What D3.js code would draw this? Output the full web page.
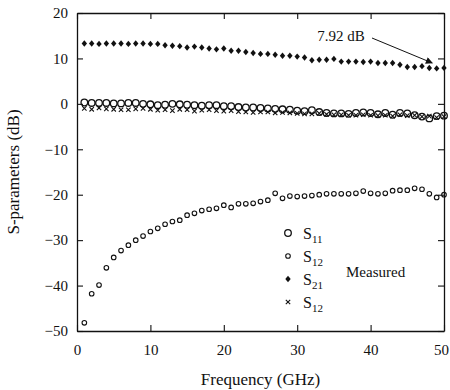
<!DOCTYPE html>
<html><head><meta charset="utf-8">
<script src="https://cdn.jsdelivr.net/npm/d3@7"></script>
<style>body{margin:0;background:#fff}svg{display:block}text{font-family:"Liberation Serif","Times New Roman",serif;fill:#111}</style>
</head><body><svg id="c" width="450" height="390"></svg>
<script>
const freq = d3.range(1, 51);
const s21 = [13.3,13.3,13.2,13.3,13.3,13.3,13.2,13.3,13.3,13.2,13.2,12.9,12.8,12.7,12.4,12.6,12.4,12.2,12.0,12.2,11.7,11.7,11.4,11.2,11.0,11.0,10.8,10.6,10.6,10.4,10.2,9.6,9.7,9.7,9.9,9.3,9.3,9.3,9.2,9.3,9.0,9.0,9.0,8.6,8.1,8.1,8.3,7.9,7.8,7.92];
const s11 = [0.3,0.2,0.2,0.2,0.1,0.1,0.2,0.2,0.0,-0.1,-0.3,-0.2,0.0,-0.1,-0.2,-0.3,-0.4,-0.3,-0.3,-0.5,-0.5,-0.7,-0.8,-0.8,-0.9,-1.0,-1.1,-1.2,-1.3,-1.5,-1.6,-1.4,-1.8,-2.0,-2.1,-2.1,-2.2,-2.0,-1.9,-2.0,-2.3,-2.0,-2.4,-2.0,-2.1,-2.5,-2.8,-3.2,-2.7,-2.6];
const s12x = [-1.0,-1.2,-0.9,-1.1,-1.2,-1.3,-1.3,-1.1,-1.0,-1.2,-1.4,-1.3,-1.5,-1.2,-1.3,-1.6,-1.4,-1.3,-1.5,-1.6,-1.5,-1.7,-1.8,-1.9,-1.8,-1.8,-2.0,-1.9,-2.0,-2.1,-2.2,-2.2,-2.1,-2.3,-2.4,-2.4,-2.5,-2.5,-2.4,-2.5,-2.6,-2.5,-2.7,-2.4,-2.6,-2.5,-2.8,-2.7,-3.0,-2.8];
const s12o = [-48.2,-41.8,-39.9,-36.1,-33.8,-32.3,-31.1,-30.0,-29.1,-28.1,-27.4,-26.5,-25.9,-25.6,-24.5,-24.1,-23.5,-23.2,-23.0,-22.3,-22.8,-22.0,-22.0,-21.9,-21.5,-21.2,-19.7,-20.8,-20.3,-20.4,-20.3,-20.2,-20.0,-19.8,-19.8,-19.8,-19.8,-19.7,-19.2,-19.7,-19.8,-19.7,-19.1,-19.0,-19.0,-18.6,-18.8,-19.8,-20.6,-20.0];
const xTicks = [0,10,20,30,40,50];
const yTicks = [20,10,0,-10,-20,-30,-40,-50];
const legendItems = [["11","o"],["12","s"],["21","d"],["12","x"]];
const annotation = "7.92 dB";
const legendNote = "Measured";

const svg = d3.select("#c");
const L=77,R=444,T=13,B=331;
const x = d3.scaleLinear().domain([0,50]).range([L,R]);
const y = d3.scaleLinear().domain([-50,20]).range([B,T]);
const tk=6;
const col="#111";

const ax = (g)=>g.selectAll(".domain").attr("stroke",col).attr("stroke-width",1.3);
const fnt = g=>g.selectAll("text").style("font-size","15px").attr("fill",col);
const tl = g=>g.selectAll("line").attr("stroke",col).attr("stroke-width",1.1);
svg.append("g").attr("transform",`translate(0,${B})`)
  .call(d3.axisBottom(x).tickValues(xTicks).tickSize(-tk).tickPadding(13).tickSizeOuter(0))
  .call(ax).call(fnt).call(tl)
  .call(g=>g.selectAll(".tick").filter(d=>d===50).select("text").attr("dx",-3));
svg.append("g").attr("transform",`translate(0,${T})`)
  .call(d3.axisTop(x).tickValues(xTicks).tickSize(-tk).tickFormat("").tickSizeOuter(0))
  .call(ax).call(tl);
svg.append("g").attr("transform",`translate(${L},0)`)
  .call(d3.axisLeft(y).tickValues(yTicks).tickSize(-tk).tickPadding(9).tickSizeOuter(0))
  .call(ax).call(fnt).call(tl);
svg.append("g").attr("transform",`translate(${R},0)`)
  .call(d3.axisRight(y).tickValues(yTicks).tickSize(-tk).tickFormat("").tickSizeOuter(0))
  .call(ax).call(tl);

svg.append("text").attr("x",(L+R)/2).attr("y",385).attr("text-anchor","middle")
  .style("font-size","17px").text("Frequency (GHz)");
svg.append("text").attr("transform",`translate(19,${(T+B)/2}) rotate(-90)`).attr("text-anchor","middle")
  .style("font-size","17px").text("S-parameters (dB)");

function draw(g,type,cx,cy){
  if(type==="o") g.append("circle").attr("cx",cx).attr("cy",cy).attr("r",3.3).attr("fill","none").attr("stroke",col).attr("stroke-width",1.3);
  else if(type==="s") g.append("circle").attr("cx",cx).attr("cy",cy).attr("r",2.3).attr("fill","none").attr("stroke",col).attr("stroke-width",1.1);
  else if(type==="d") g.append("path").attr("d",`M${cx},${cy-3.2}L${cx+2.7},${cy}L${cx},${cy+3.2}L${cx-2.7},${cy}Z`).attr("fill",col);
  else if(type==="x") g.append("path").attr("d",`M${cx-2.2},${cy-2.2}L${cx+2.2},${cy+2.2}M${cx-2.2},${cy+2.2}L${cx+2.2},${cy-2.2}`).attr("stroke",col).attr("stroke-width",1.1);
}
const series=[[s12x,"x"],[s11,"o"],[s12o,"s"],[s21,"d"]];
series.forEach(([vals,t])=>{
  const g=svg.append("g");
  vals.forEach((v,i)=>draw(g,t,x(freq[i]),y(v)));
});

svg.append("text").attr("x",341).attr("y",41).attr("text-anchor","middle").style("font-size","15px").text(annotation);
svg.append("defs").append("marker").attr("id","ah").attr("viewBox","0 0 10 10").attr("refX",9).attr("refY",5)
  .attr("markerWidth",10).attr("markerHeight",7).attr("orient","auto").attr("markerUnits","userSpaceOnUse")
  .append("path").attr("d","M0,0L10,5L0,10z").attr("fill",col);
svg.append("line").attr("x1",372).attr("y1",38).attr("x2",x(48.4)).attr("y2",y(9.0)).attr("stroke",col).attr("stroke-width",1).attr("marker-end","url(#ah)");

const lg=svg.append("g");
legendItems.forEach(([sub,t],i)=>{
  const cy=233+i*23;
  draw(lg,t,288,cy);
  const tx=lg.append("text").attr("x",303).attr("y",cy+6).style("font-size","16px");
  tx.append("tspan").text("S");
  tx.append("tspan").attr("dy",4).style("font-size","11px").text(sub);
});
lg.append("text").attr("x",346).attr("y",277).style("font-size","15px").text(legendNote);
</script></body></html>
